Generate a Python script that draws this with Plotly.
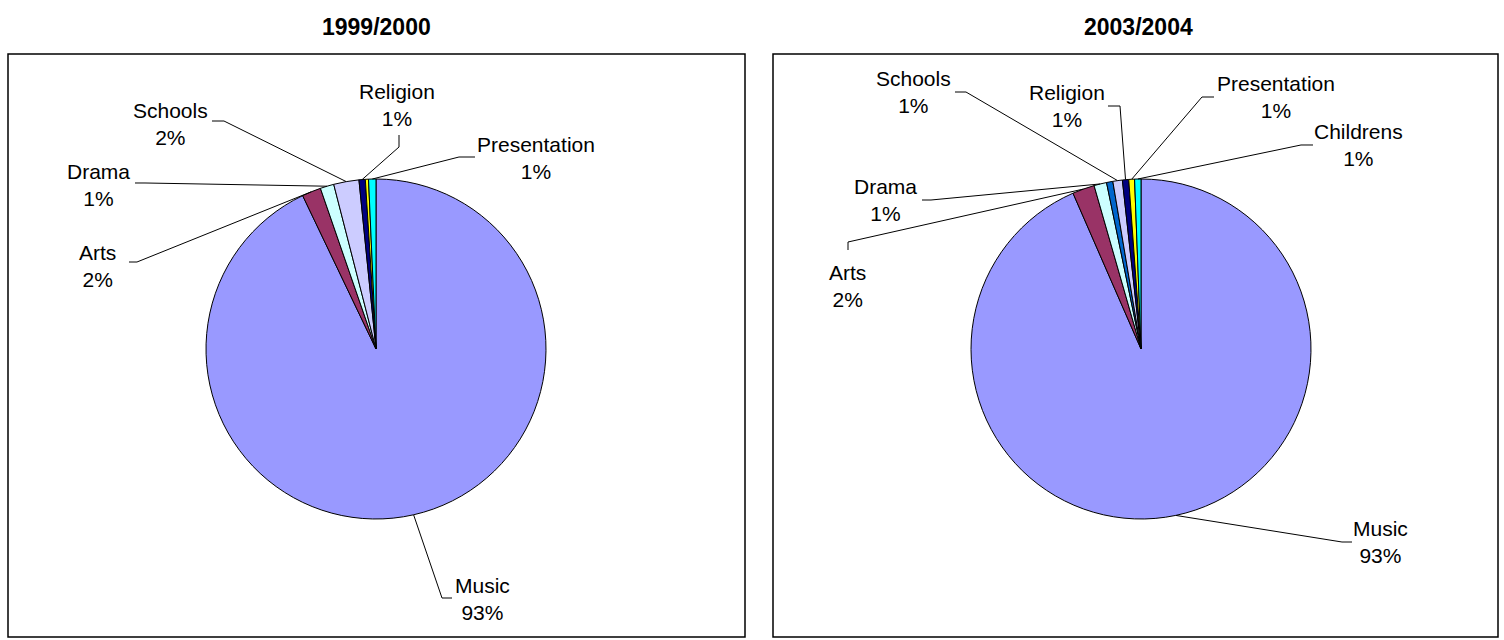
import math
import plotly.graph_objects as go

W, H = 1504, 640

# ---- data -------------------------------------------------------------
titles = ["1999/2000", "2003/2004"]

cats_9900 = ["Music", "Arts", "Drama", "Schools", "Religion", "Other", "Presentation"]
vals_9900 = [92.9, 1.8, 1.3, 2.4, 0.6, 0.3, 0.7]

cats_0304 = ["Music", "Arts", "Drama", "Other", "Schools", "Religion", "Presentation", "Childrens"]
vals_0304 = [93.45, 2.1, 1.2, 0.6, 0.9, 0.6, 0.55, 0.6]

colors_9900 = ["#9999FF", "#993366", "#CCFFFF", "#CCCCFF", "#000080", "#FFFF00", "#00FFFF"]
colors_0304 = ["#9999FF", "#993366", "#CCFFFF", "#0066CC", "#CCCCFF", "#000080", "#FFFF00", "#00FFFF"]

# ---- layout of each panel (pixels) -------------------------------------
FONT = "Liberation Sans, Arial, sans-serif"
R = 170

panels = [
    dict(title_x=376, box=(8, 54, 745, 637), cx=376, cy=349,
         # label: (text cx, text cy, anchor x, anchor y, elbow x, elbow y)
         labels={
             "Religion": (397, 105, 399, 135, 399, 147),
             "Presentation": (536, 158, 475, 157, 459, 157),
             "Schools": (170, 124, 212, 121, 224, 121),
             "Drama": (99, 185, 135, 183, 145, 183),
             "Arts": (97, 266, 129, 262, 137, 262),
             "Music": (482, 599, 452, 598, 442, 598),
         }),
    dict(title_x=1138, box=(773, 54, 1498, 637), cx=1141, cy=349,
         labels={
             "Schools": (913, 92, 955, 92, 966, 92),
             "Religion": (1067, 106, 1108, 106, 1120, 106),
             "Presentation": (1276, 97, 1214, 97, 1202, 97),
             "Childrens": (1358, 145, 1313, 145, 1301, 145),
             "Drama": (886, 200, 922, 200, 931, 200),
             "Arts": (847, 286, 848, 250, 848, 242),
             "Music": (1380, 542, 1352, 542, 1342, 542),
         }),
]


def fx(x):
    return x / W


def fy(y):
    return 1 - y / H


fig = go.Figure()
shapes = []
annotations = []

series = [(cats_9900, vals_9900, colors_9900), (cats_0304, vals_0304, colors_0304)]

for (cats, vals, cols), title, p in zip(series, titles, panels):
    cx, cy = p["cx"], p["cy"]
    fig.add_trace(go.Pie(
        labels=cats, values=vals, sort=False, direction="clockwise", rotation=0,
        marker=dict(colors=cols, line=dict(color="black", width=1)),
        textinfo="none", showlegend=False,
        domain=dict(x=[fx(cx - R), fx(cx + R)], y=[fy(cy + R), fy(cy - R)]),
    ))

    # outer border of the chart area
    x0, y0, x1, y1 = p["box"]
    shapes.append(dict(type="rect", xref="paper", yref="paper",
                       x0=fx(x0), x1=fx(x1), y0=fy(y1), y1=fy(y0),
                       line=dict(color="black", width=1.5)))

    annotations.append(dict(text="<b>%s</b>" % title, x=fx(p["title_x"]), y=fy(27),
                            xref="paper", yref="paper", showarrow=False,
                            xanchor="center", yanchor="middle",
                            font=dict(size=23, family=FONT, color="black")))

    # data labels with leader lines to the middle of each slice
    total = sum(vals)
    cum = 0.0
    for name, v in zip(cats, vals):
        mid = (cum + v / 2) / total * 2 * math.pi
        cum += v
        if name not in p["labels"]:
            continue
        tx, ty, ax, ay, ex, ey = p["labels"][name]
        px_ = cx + R * math.sin(mid)
        py_ = cy - R * math.cos(mid)
        pct = int(v / total * 100 + 0.5)
        annotations.append(dict(text="%s<br>%d%%" % (name, pct), x=fx(tx), y=fy(ty),
                                xref="paper", yref="paper", showarrow=False,
                                xanchor="center", yanchor="middle", align="center",
                                font=dict(size=21, family=FONT, color="black")))
        path = "M %f,%f L %f,%f L %f,%f" % (fx(ax), fy(ay), fx(ex), fy(ey), fx(px_), fy(py_))
        shapes.append(dict(type="path", xref="paper", yref="paper", path=path,
                           line=dict(color="black", width=1)))

fig.update_layout(
    width=W, height=H,
    margin=dict(l=0, r=0, t=0, b=0),
    paper_bgcolor="white", plot_bgcolor="white",
    shapes=shapes, annotations=annotations,
)

# the page body has a default 8px margin; remove it so the figure fills the window
fig.write_html("out.html", config={"displayModeBar": False},
               post_script="document.body.style.margin='0px';")
